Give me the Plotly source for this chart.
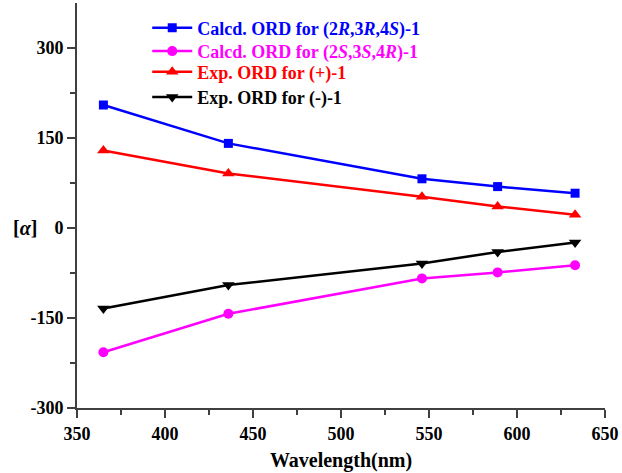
import plotly.graph_objects as go

wavelength = [365, 436, 546, 589, 633]
calc_RRS = [205, 141, 82, 69, 58]
calc_SSR = [-207, -143, -84, -74, -62]
exp_plus = [129, 91, 52, 36, 22]
exp_minus = [-134, -95, -59, -40, -24]

x_ticks = [350, 400, 450, 500, 550, 600, 650]
y_ticks = [-300, -150, 0, 150, 300]

names = [
    "<span style='color:#0000FF'><b>Calcd. ORD for (2<i>R</i>,3<i>R</i>,4<i>S</i>)-1</b></span>",
    "<span style='color:#FF00FF'><b>Calcd. ORD for (2<i>S</i>,3<i>S</i>,4<i>R</i>)-1</b></span>",
    "<span style='color:#FF0000'><b>Exp. ORD for (+)-1</b></span>",
    "<span style='color:#000000'><b>Exp. ORD for (-)-1</b></span>",
]
series = [calc_RRS, calc_SSR, exp_plus, exp_minus]
colors = ["#0000FF", "#FF00FF", "#FF0000", "#000000"]
symbols = ["square", "circle", "triangle-up", "triangle-down"]
sizes = [9, 10, 11, 11]
legend_ids = ["legend", "legend2", "legend3", "legend4"]
legend_rows_y = [0.938, 0.8805, 0.8295, 0.767]

FONT = "Liberation Serif"

fig = go.Figure()
for y, n, c, s, sz, lg in zip(series, names, colors, symbols, sizes, legend_ids):
    fig.add_trace(go.Scatter(
        x=wavelength, y=y, name=n, mode="lines+markers",
        line=dict(color=c, width=2.5),
        marker=dict(symbol=s, size=sz, color=c),
        legend=lg,
    ))

axis_common = dict(
    showline=True, linecolor="#404040", linewidth=2,
    ticks="outside", ticklen=8, tickwidth=2, tickcolor="#404040",
    showgrid=False, zeroline=False,
    tickfont=dict(family=FONT, size=18, color="#000000"),
)

legend_style = dict(
    x=0.133, xanchor="left", yanchor="middle",
    bgcolor="rgba(0,0,0,0)", borderwidth=0,
    font=dict(family=FONT, size=18),
    itemwidth=40,
)

fig.update_layout(
    width=622, height=473,
    margin=dict(l=77, r=15, t=3, b=65),
    paper_bgcolor="white", plot_bgcolor="white",
    font=dict(family=FONT, size=18, color="#000000"),
    showlegend=True,
    xaxis=dict(
        range=[350, 650], tickmode="array",
        tickvals=x_ticks, ticktext=[f"<b>{v}</b>" for v in x_ticks],
        minor=dict(tickvals=[375, 425, 475, 525, 575, 625], ticks="outside",
                   ticklen=5, tickwidth=2, tickcolor="#404040"),
        title=dict(text="<b>Wavelength(nm)</b>", standoff=10,
                   font=dict(family=FONT, size=20)),
        **axis_common,
    ),
    yaxis=dict(
        range=[-300, 375], tickmode="array",
        tickvals=y_ticks, ticktext=[f"<b>{v}</b>" for v in y_ticks],
        minor=dict(tickvals=[-225, -75, 75, 225], ticks="outside",
                   ticklen=5, tickwidth=2, tickcolor="#404040"),
        **axis_common,
    ),
    annotations=[dict(
        text="<b>[<i>α</i>]</b>", xref="paper", yref="y", x=-0.098, y=0,
        xanchor="center", yanchor="middle", showarrow=False,
        font=dict(family=FONT, size=20),
    )],
)
for lg, ly in zip(legend_ids, legend_rows_y):
    fig.update_layout({lg: dict(y=ly, **legend_style)})

fig.write_html("out.html")
